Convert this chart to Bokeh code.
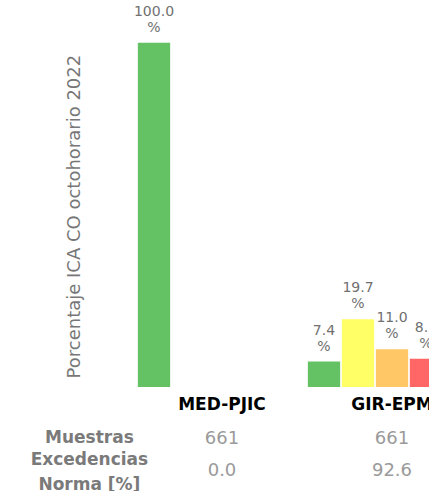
from bokeh.plotting import figure
from bokeh.models import Range1d, ColumnDataSource
from bokeh.core.properties import value
from bokeh.embed import file_html
from bokeh.resources import INLINE
import math

# ---- data ----
stations = ["MED-PJIC", "GIR-EPM"]
categories = ["Buena", "Aceptable", "Dañina grupos sensibles", "Dañina"]
cat_colors = ["#64c264", "#ffff66", "#ffc766", "#ff6666"]
pct_med_pjic = [100.0, 0.0, 0.0, 0.0]
pct_gir_epm = [7.4, 19.7, 11.0, 8.2]
muestras = [661, 661]
excedencias = [0.0, 92.6]
y_title = "Porcentaje ICA CO octohorario 2022"
row_labels = ["Muestras", "Excedencias\nNorma [%]"]

# ---- layout constants ----
SLOTS = 5          # bar slots per station group
BAR_W = 0.95
FONT = "DejaVu Sans"

series = [pct_med_pjic, pct_gir_epm]
xs, tops, cols, labels = [], [], [], []
for g, vals in enumerate(series):
    for c, v in enumerate(vals):
        xs.append(g * SLOTS + c + 0.5)
        tops.append(v)
        cols.append(cat_colors[c])
        labels.append(f"{v:.1f}\n%" if v > 0 else "")
src = ColumnDataSource(dict(x=xs, top=tops, color=cols, label=labels))

p = figure(width=429, height=491, x_range=Range1d(-4.015, 8.603),
           y_range=Range1d(-30.36, 112.29), output_backend="svg",
           toolbar_location=None, min_border=0)
p.axis.visible = False
p.grid.visible = False
p.outline_line_color = None
p.background_fill_color = "white"
p.border_fill_color = "white"

p.vbar(x="x", top="top", bottom=0, width=BAR_W, color="color", line_color=None, source=src)
p.text(x="x", y="top", text="label", source=src, text_align="center",
       text_baseline="bottom", y_offset=-8, text_font=value(FONT),
       text_font_size="14px", text_color="#707070", text_line_height=1.0)

# group names
gx = [g * SLOTS + SLOTS / 2 for g in range(len(stations))]
p.text(x=gx, y=[-4.8] * len(stations), text=stations, text_align="center",
       text_baseline="middle", text_font=value(FONT), text_font_size="17px",
       text_font_style="bold", text_color="#000000")

# table rows
p.text(x=gx, y=[-14.67] * len(stations), text=[str(m) for m in muestras],
       text_align="center", text_baseline="middle", text_font=value(FONT),
       text_font_size="18px", text_color="#9a9a9a")
p.text(x=gx, y=[-23.97] * len(stations), text=[f"{e:.1f}" for e in excedencias],
       text_align="center", text_baseline="middle", text_font=value(FONT),
       text_font_size="18px", text_color="#9a9a9a")
p.text(x=[-1.4], y=[-14.67], text=row_labels[:1], text_align="center",
       text_baseline="middle", text_font=value(FONT), text_font_size="17px",
       text_font_style="bold", text_color="#7a7a7a")
p.text(x=[-1.4], y=[-24.5], text=row_labels[1:], text_align="center",
       text_baseline="middle", text_font=value(FONT), text_font_size="17px",
       text_font_style="bold", text_color="#7a7a7a", text_line_height=1.25)

# y-axis title
p.text(x=[-1.88], y=[49.5], text=[y_title], angle=math.pi / 2, text_align="center",
       text_baseline="middle", text_font=value(FONT), text_font_size="18px",
       text_color="#777777")

open("out.html", "w").write(file_html(p, INLINE))
